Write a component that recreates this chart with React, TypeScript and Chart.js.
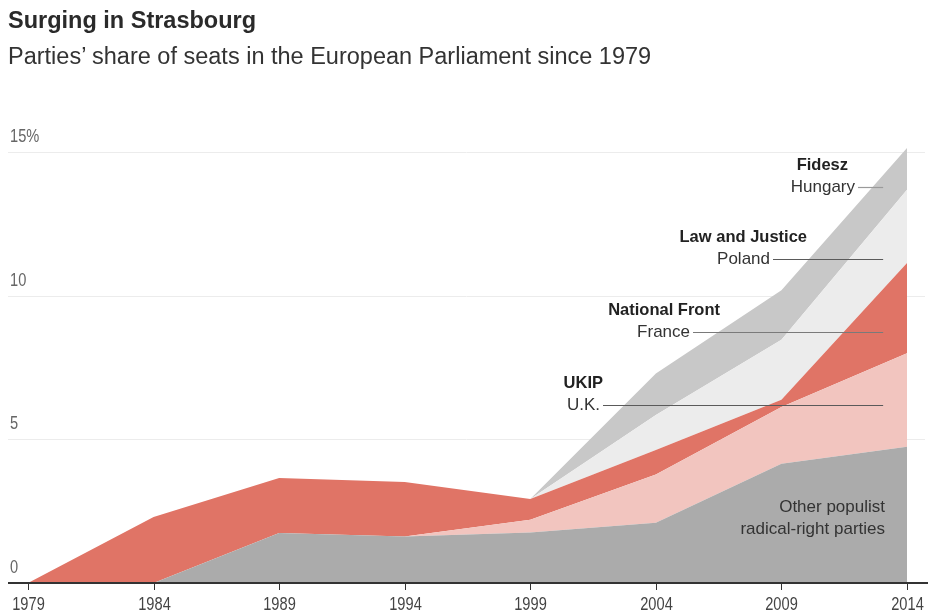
import React, { useEffect, useRef } from "react";
import { Chart, registerables } from "chart.js";

Chart.register(...registerables);

// ---- Data (percent share of seats) ----
const years = [1979, 1984, 1989, 1994, 1999, 2004, 2009, 2014];
const otherPopulist = [0, 0, 1.74, 1.62, 1.76, 2.1, 4.15, 4.75];
const ukip = [0, 0, 0, 0, 0.44, 1.68, 1.98, 3.25];
const nationalFront = [0, 2.3, 1.92, 1.9, 0.73, 0.85, 0.25, 3.15];
const lawAndJustice = [0, 0, 0, 0, 0, 1.22, 2.09, 2.55];
const fidesz = [0, 0, 0, 0, 0, 1.45, 1.73, 1.45];

const yTicks = [0, 5, 10, 15];
const yTickLabels = ["0", "5", "10", "15%"];

const TITLE = "Surging in Strasbourg";
const SUBTITLE = "Parties\u2019 share of seats in the European Parliament since 1979";

// label annotations: [name, country, value where leader line sits]
const annotations = [
  { name: "Fidesz", country: "Hungary", value: 13.78, nameRight: 848, countryRight: 855, lineColor: "#9a9a9a" },
  { name: "Law and Justice", country: "Poland", value: 11.27, nameRight: 807, countryRight: 770, lineColor: "#5a5a5a" },
  { name: "National Front", country: "France", value: 8.76, nameRight: 720, countryRight: 690, lineColor: "#7a7a7a" },
  { name: "UKIP", country: "U.K.", value: 6.2, nameRight: 603, countryRight: 600, lineColor: "#5a5a5a" },
];
const leaderEndYear = 2013.05;

const FONT = '"Liberation Sans", Arial, Helvetica, sans-serif';

function toPoints(vals: number[]) {
  return years.map((x, i) => ({ x, y: vals[i] }));
}

const decoPlugin = {
  id: "deco",
  beforeDatasetsDraw(chart: any) {
    const ctx = chart.ctx;
    const y = chart.scales.y;
    ctx.save();
    // gridlines
    ctx.strokeStyle = "#ececec";
    ctx.lineWidth = 1;
    yTicks.forEach((v) => {
      if (v === 0) return;
      const py = Math.round(y.getPixelForValue(v)) + 0.5;
      ctx.beginPath();
      ctx.moveTo(8, py);
      ctx.lineTo(925, py);
      ctx.stroke();
    });
    // y labels
    ctx.fillStyle = "#666";
    ctx.font = `19px ${FONT}`;
    ctx.textBaseline = "alphabetic";
    ctx.textAlign = "left";
    yTicks.forEach((v, i) => {
      const py = y.getPixelForValue(v) - 10;
      ctx.save();
      ctx.translate(10, py);
      ctx.scale(0.77, 1);
      ctx.fillText(yTickLabels[i], 0, 0);
      ctx.restore();
    });
    ctx.restore();
  },
  afterDatasetsDraw(chart: any) {
    const ctx = chart.ctx;
    const x = chart.scales.x;
    const y = chart.scales.y;
    const y0 = y.getPixelForValue(0);
    ctx.save();
    // axis line
    ctx.strokeStyle = "#333";
    ctx.lineWidth = 2;
    ctx.beginPath();
    ctx.moveTo(8, y0);
    ctx.lineTo(928, y0);
    ctx.stroke();
    // ticks and labels
    ctx.lineWidth = 1;
    ctx.fillStyle = "#444";
    ctx.font = `19px ${FONT}`;
    ctx.textAlign = "center";
    ctx.textBaseline = "alphabetic";
    years.forEach((yr) => {
      const px = Math.round(x.getPixelForValue(yr)) + 0.5;
      ctx.beginPath();
      ctx.moveTo(px, y0);
      ctx.lineTo(px, y0 + 7);
      ctx.stroke();
      ctx.save();
      ctx.translate(px, 610);
      ctx.scale(0.77, 1);
      ctx.fillText(String(yr), 0, 0);
      ctx.restore();
    });

    // annotations
    const xEnd = x.getPixelForValue(leaderEndYear);
    ctx.textAlign = "right";
    annotations.forEach((a) => {
      const ly = Math.round(y.getPixelForValue(a.value)) + 0.5;
      ctx.strokeStyle = a.lineColor;
      ctx.lineWidth = 1.2;
      ctx.beginPath();
      ctx.moveTo(a.countryRight + 3, ly);
      ctx.lineTo(xEnd, ly);
      ctx.stroke();
      ctx.fillStyle = "#333";
      ctx.font = `17px ${FONT}`;
      ctx.fillText(a.country, a.countryRight, ly + 4);
      ctx.fillStyle = "#222";
      ctx.font = `bold 16.5px ${FONT}`;
      ctx.fillText(a.name, a.nameRight, ly - 18);
    });

    ctx.fillStyle = "#333";
    ctx.font = `17px ${FONT}`;
    ctx.fillText("Other populist", 885, 512);
    ctx.fillText("radical-right parties", 885, 534);
    ctx.restore();
  },
};

export default function App() {
  const ref = useRef<HTMLCanvasElement | null>(null);
  useEffect(() => {
    if (!ref.current) return;
    const common = { borderWidth: 0, pointRadius: 0, tension: 0 };
    const chart = new Chart(ref.current, {
      type: "line",
      data: {
        datasets: [
          { label: "Other populist radical-right parties", data: toPoints(otherPopulist), backgroundColor: "#ababab", borderColor: "#ababab", fill: "origin", ...common },
          { label: "UKIP", data: toPoints(ukip), backgroundColor: "#f2c5bf", borderColor: "#f2c5bf", fill: "-1", ...common },
          { label: "National Front", data: toPoints(nationalFront), backgroundColor: "#e07466", borderColor: "#e07466", fill: "-1", ...common },
          { label: "Law and Justice", data: toPoints(lawAndJustice), backgroundColor: "#ececec", borderColor: "#ececec", fill: "-1", ...common },
          { label: "Fidesz", data: toPoints(fidesz), backgroundColor: "#c8c8c8", borderColor: "#c8c8c8", fill: "-1", ...common },
        ],
      },
      options: {
        animation: false,
        responsive: false,
        maintainAspectRatio: false,
        layout: { padding: { left: 28, right: 21, top: 138, bottom: 31 } },
        plugins: { legend: { display: false }, tooltip: { enabled: false }, title: { display: false } },
        scales: {
          x: { type: "linear", min: 1979, max: 2014, display: false },
          y: { type: "linear", min: 0, max: 15.5, stacked: true, display: false },
        },
      },
      plugins: [decoPlugin],
    });
    return () => chart.destroy();
  }, []);

  return (
    <div style={{ position: "fixed", left: 0, top: 0, width: 928, height: 614, background: "#fff" }}>
      <canvas ref={ref} width={928} height={614} style={{ position: "absolute", left: 0, top: 0, width: 928, height: 614 }} />
      <div style={{ position: "absolute", left: 8, top: 9, font: `bold 23.5px ${FONT}`, lineHeight: "23px", color: "#2a2a2a", whiteSpace: "nowrap" }}>
        {TITLE}
      </div>
      <div style={{ position: "absolute", left: 8, top: 45, font: `23.5px ${FONT}`, lineHeight: "23px", color: "#333", whiteSpace: "nowrap" }}>
        {SUBTITLE}
      </div>
    </div>
  );
}
